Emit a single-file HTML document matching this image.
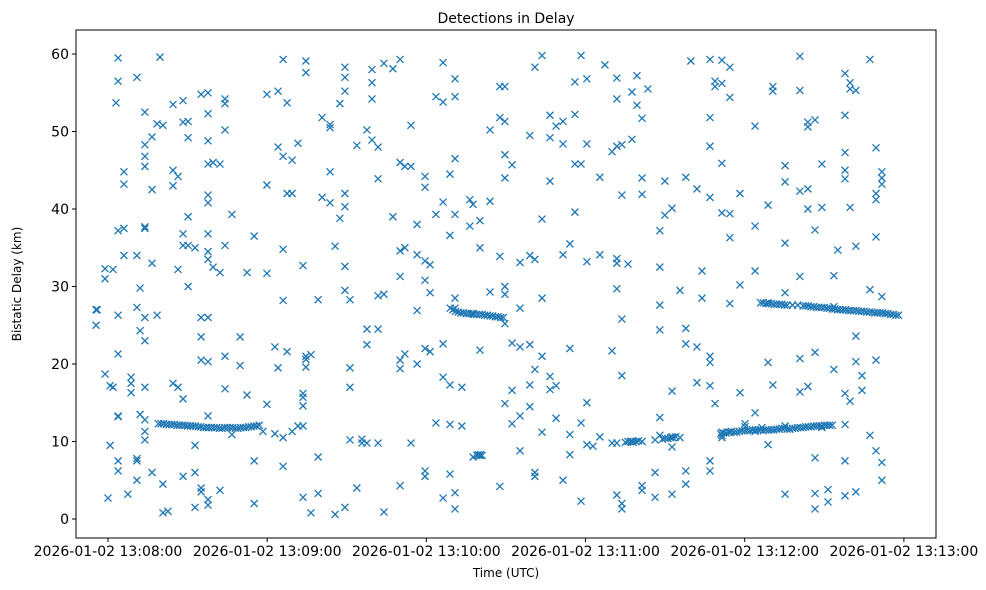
<!DOCTYPE html>
<html><head><meta charset="utf-8"><style>
html,body{margin:0;padding:0;background:#fff;}
svg{display:block;font-family:"DejaVu Sans","Liberation Sans",sans-serif;}
</style></head><body>
<svg id="chart" width="986" height="590" viewBox="0 0 986 590" xmlns="http://www.w3.org/2000/svg">
<rect x="0" y="0" width="986" height="590" fill="#fff"/>
<text x="506" y="23" font-size="14" text-anchor="middle" fill="#000">Detections in Delay</text>
<text x="506" y="577" font-size="12" text-anchor="middle" fill="#000">Time (UTC)</text>
<text x="0" y="0" font-size="12" text-anchor="middle" fill="#000" transform="translate(21,284) rotate(-90)">Bistatic Delay (km)</text>
<g id="marks"></g>
<g id="axes"></g>
</svg>
<script>
// column times (seconds after 13:08:00) and delays (km) at each
const colTimes = [-4.5,-4.1,-1.1,0,0.8,1.9,3,3.8,6,7.5,8.7,10.9,12.1,13.9,16.6,18.5,19.6,20.7,22.6,24.5,26.4,28.3,30.2,32.8,35.1,37.7,39.6,42.2,44.1,46.7,49.8,52.4,55.1,58.4,59.9,62.9,64.1,66,67.5,69.4,71.6,73.5,74.6,76.5,79.2,80.7,83.7,85.6,87.4,89.3,91.2,93.8,95.7,97.6,99.5,101.8,104,107.4,110.1,111.9,114.2,116.5,119.5,121.4,123.6,126.3,128.9,130.8,133.4,136.4,137.6,140.2,144,147.7,149.6,152.3,155.3,159,160.9,163.6,166.6,168.9,171.5,174.1,176,178.3,180.5,182.8,185.4,187.3,190,191.8,193.7,196,197.5,199.4,201.3,203.5,206.2,208,209.9,212.6,215.6,217.8,219.7,222,223.9,226.9,228.8,231.4,234.4,238.2,240.1,243.9,246.5,248.8,250.6,255.2,260.8,263.8,266.5,269.1,271.4,273.6,275.1,277.8,279.7,281.9,284.2,287.2,289.5,291.7];
const colDelays = [[27,25],[27],[31,32.3,18.7],[2.7],[9.5,17.2],[32.2,17],[53.7],[56.5,59.5,37.2,26.3,13.3,13.2,7.5,6.2,21.3],[44.8,43.2,37.5,34],[3.2],[17.5,18.3,16.3],[57,34,27.3,7.5,7.8,5],[29.8,24.3,13.5],[52.5,48.3,46.8,45.5,37.5,37.7,26,23,12.8,10.2,11.3,17],[33,42.5,49.3,6],[51,26.3],[59.6],[50.8,4.5,0.8],[1],[17.5,43,45,53.5],[44.2,32.2,17],[54,51.2,36.8,35.3,15.5,5.5],[51.3,49.2,39,35.3,30],[35,9.5,1.5,6],[54.8,26,23.5,20.5,3.5,4],[55,45.8,48.8,52.3,41.8,40.8,36.8,34.5,33.5,26,20.3,13.3,2.5,1.8],[46,32.5],[45.8,31.8,3.7],[50.2,53.6,54.2,35.3,21,16.8],[39.3,10.9],[19.8,23.5],[31.8,16],[36.5,7.5,2],[11.3],[14.8,31.7,43.1,54.8],[11,22.2],[19.5,48,55.2],[59.3,28.2,34.8,46.8,10.5,6.8],[21.6,42,53.7],[11.3,42,46.3],[12,48.5],[12,2.8,16.2,15.7,14.6,32.7],[59.1,57.6,19.6,20.6,21],[21.2,0.8],[3.3,28.3,8],[51.8,41.5],[44.8,40.8,50.9,50.5],[35.2,0.6],[38.8,53.6],[57,58.3,55.2,42,40.3,32.6,29.5,1.5],[19.5,28.3,17,10.2],[48.2,4],[10.3,9.8],[50.2,24.5,22.5,9.8],[54.2,56.3,58,48.9],[24.5,48,43.9,28.8,9.8],[58.8,29,0.9],[58.1,39],[59.3,46,34.6,31.3,20.5,19.4,4.3],[45.5,35,21.3],[45.5,50.8,9.8],[38,34.1,20,26.9],[44.2,42.8,33.3,30.8,22,6.2,5.5],[29.2,32.8,21.6],[54.5,39.3,12.4],[58.9,53.8,40.9,22.6,18.3,2.7],[44.5,36.6,17.3,12.2,5.8],[56.8,54.5,46.5,39.3,28.5,27.2,3.4,1.3],[17,12],[37.8,41.2],[40.6,26.5,8],[38.5,35,21.8,8.2],[50.2,41,29.3],[55.8,51.8,33.9,4.2],[55.8,51.3,47,44,29,30,25.2,14.9],[45.7,22.7,16.6,12.3],[27.2,33.1,13.3,8.8,22.2],[49.5,34,22.5,17.3,14.5],[58.3,33.5,19.3,5.5,6],[59.8,38.7,11.2,21,28.5],[52.1,49.2,43.6,18.4,16.7],[50.7,17.2,13],[48.4,51.3,34.1,5],[22,35.5,10.9,8.3],[52.2,56.4,39.6,45.8],[59.8,45.8,12.4,2.3],[48.4,56.8,33.2,15,9.6],[9.4],[44.1,34.1,10.6],[58.6],[47.4,21.7,9.8],[54.2,56.9,48.1,29.7,33.6,33,3.1,9.8],[48.3,41.8,25.8,18.5,2,1.3],[32.9],[49,55.1,10],[57.2,53.4],[51.7,44,41.9,10,4.3,3.7],[55.5],[10.2,2.8,6],[37.2,32.5,27.6,24.4,10.8,13.1],[43.6,39.2],[40.1,16.5,10.6,9.3,3.2],[10.5,29.5],[44.1,24.6,22.6,6.2,4.5],[59.1],[42.6,17.6,22.2],[32,28.5],[59.3,51.8,48.1,41.5,21,20.2,17.2,7.5,6.2],[56.5,55.8,14.9],[59.2,56.2,45.9,39.5,11.2,10.5,10.8],[58.3,54.4,39.4,36.3,27.8,11.2],[42,30.2,16.3],[12.3,11.9],[50.7,37.8,32,13.7,11.3],[11.8],[40.5,27.9,20.2,9.6],[55.8,55.2,17.3],[43.5,45.6,35.6,29.2,12,3.2],[59.7,55.3,42.3,31.3,16.4,20.7],[50.6,51.2,42.6,40,17.1],[51.5,37.3,21.5,7.9,3.3,1.3],[45.8,40.2,11.8],[2.2,3.8],[31.4,27.4,19.3],[34.7],[57.5,52.1,47.3,45,43.9,16.2,12.2,7.5,3],[56.3,55.5,40.2,15.2],[55.3,35.2,23.6,20.3,3.5],[18.5,16.6],[59.3,29.6,10.8],[47.9,42,41.2,36.4,20.5,8.8],[44.8,44,43.2,28.7,7.3,5]];
// track detections
const trackATimes = [19,20,21,22,23,24,25,26,27,28,29,30,31,32,33,34,35,36,37,38,39,40,41,42,43,44,45,46,47,48,49,50,51,52,53,54,55,56,57];
const trackADelays = [12.3,12.3,12.3,12.2,12.2,12.2,12.2,12.1,12.1,12.1,12.1,12.0,12.0,12.0,12.0,11.9,11.9,11.8,11.8,11.8,11.8,11.8,11.8,11.7,11.7,11.8,11.8,11.8,11.8,11.7,11.7,11.8,11.8,11.8,11.9,11.9,12.0,12.0,12.1];
const trackBTimes = [129,130,131,132,133,134,135,136,137,138,139,140,141,142,143,144,145,146,147,148,149];
const trackBDelays = [27.2,27.0,26.8,26.7,26.6,26.6,26.5,26.5,26.5,26.4,26.4,26.4,26.4,26.3,26.3,26.2,26.2,26.1,26.1,26.0,26.0];
const trackCTimes = [246,247,248,249,250,251,252,253,254,255,256,258,260,262,263,264,265,266,267,268,269,270,271,272,273,274,275,276,277,278,279,280,281,282,283,284,285,286,287,288,289,290,291,292,293,294,295,296,297,298];
const trackCDelays = [27.9,27.9,27.8,27.8,27.8,27.7,27.7,27.7,27.7,27.6,27.6,27.6,27.6,27.5,27.5,27.5,27.4,27.4,27.3,27.3,27.3,27.3,27.2,27.2,27.1,27.1,27.0,27.0,27.0,27.0,26.9,26.9,26.9,26.9,26.8,26.8,26.8,26.7,26.7,26.7,26.6,26.6,26.6,26.6,26.5,26.5,26.4,26.4,26.3,26.3];
const trackDTimes = [231,232,233,234,235,236,237,238,239,240,241,242,243,244,245,246,247,248,249,250,251,252,253,254,255,256,257,258,259,260,261,262,263,264,265,266,267,268,269,270,271,272,273];
const trackDDelays = [11.0,11.1,11.1,11.2,11.3,11.2,11.2,11.3,11.4,11.4,11.4,11.4,11.5,11.5,11.5,11.5,11.4,11.5,11.5,11.5,11.5,11.6,11.6,11.7,11.7,11.6,11.6,11.7,11.7,11.8,11.8,11.8,11.9,11.9,11.9,12.0,12.0,12.0,12.0,12.1,12.1,12.1,12.1];
const trackETimes = [139,139.5,140,140.5,141,195,196,197,198,199,200,209,210,211,212,213,214];
const trackEDelays = [8.2,8.3,8.2,8.3,8.2,9.9,10.0,10.0,9.9,10.0,10.1,10.3,10.4,10.4,10.5,10.5,10.6];
const xTickValues = [0,60,120,180,240,300];
const xTickLabels = ["2026-01-02 13:08:00","2026-01-02 13:09:00","2026-01-02 13:10:00","2026-01-02 13:11:00","2026-01-02 13:12:00","2026-01-02 13:13:00"];
const yTickValues = [0,10,20,30,40,50,60];
const yTickLabels = ["0","10","20","30","40","50","60"];

const NS = "http://www.w3.org/2000/svg";
const L = 76, R = 936, T = 30, B = 538;
const xMin = -12.06, xMax = 312.1, yMin = -2.45, yMax = 63.1;
function xScale(t){ return L + (t - xMin) / (xMax - xMin) * (R - L); }
function yScale(d){ return B - (d - yMin) / (yMax - yMin) * (B - T); }
function mk(tag, attrs, parent){ const e = document.createElementNS(NS, tag); for (const k in attrs) e.setAttribute(k, attrs[k]); parent.appendChild(e); return e; }

const marks = document.getElementById('marks');
function drawPoint(t, d){
  const cx = xScale(t), cy = yScale(d), s = 3.5;
  const p = mk('path', {d:`M${cx-s},${cy-s}L${cx+s},${cy+s}M${cx-s},${cy+s}L${cx+s},${cy-s}`, stroke:'#1f77b4', 'stroke-width':1.3, fill:'none'}, marks);
  
  
}
colTimes.forEach((t, i) => colDelays[i].forEach(d => drawPoint(t, d)));
trackATimes.forEach((t, i) => drawPoint(t, trackADelays[i]));
trackBTimes.forEach((t, i) => drawPoint(t, trackBDelays[i]));
trackCTimes.forEach((t, i) => drawPoint(t, trackCDelays[i]));
trackDTimes.forEach((t, i) => drawPoint(t, trackDDelays[i]));
trackETimes.forEach((t, i) => drawPoint(t, trackEDelays[i]));

const axes = document.getElementById('axes');
const frame = mk('rect', {x:L, y:T, width:R-L, height:B-T, fill:'none', stroke:'#000', 'stroke-width':1}, axes);


xTickValues.forEach((v, i) => {
  const x = xScale(v);
  const tk = mk('line', {x1:x, x2:x, y1:B, y2:B+4, stroke:'#000', 'stroke-width':1}, axes);
  
  
  const tx = mk('text', {x:x, y:B+18, 'font-size':14, 'text-anchor':'middle', fill:'#000'}, axes);
  tx.textContent = xTickLabels[i];
  
  
});
yTickValues.forEach((v, i) => {
  const y = yScale(v);
  const tk = mk('line', {x1:L-4, x2:L, y1:y, y2:y, stroke:'#000', 'stroke-width':1}, axes);
  
  
  const tx = mk('text', {x:L-7, y:y+5, 'font-size':14, 'text-anchor':'end', fill:'#000'}, axes);
  tx.textContent = yTickLabels[i];
  
  
});
</script>
</body></html>
